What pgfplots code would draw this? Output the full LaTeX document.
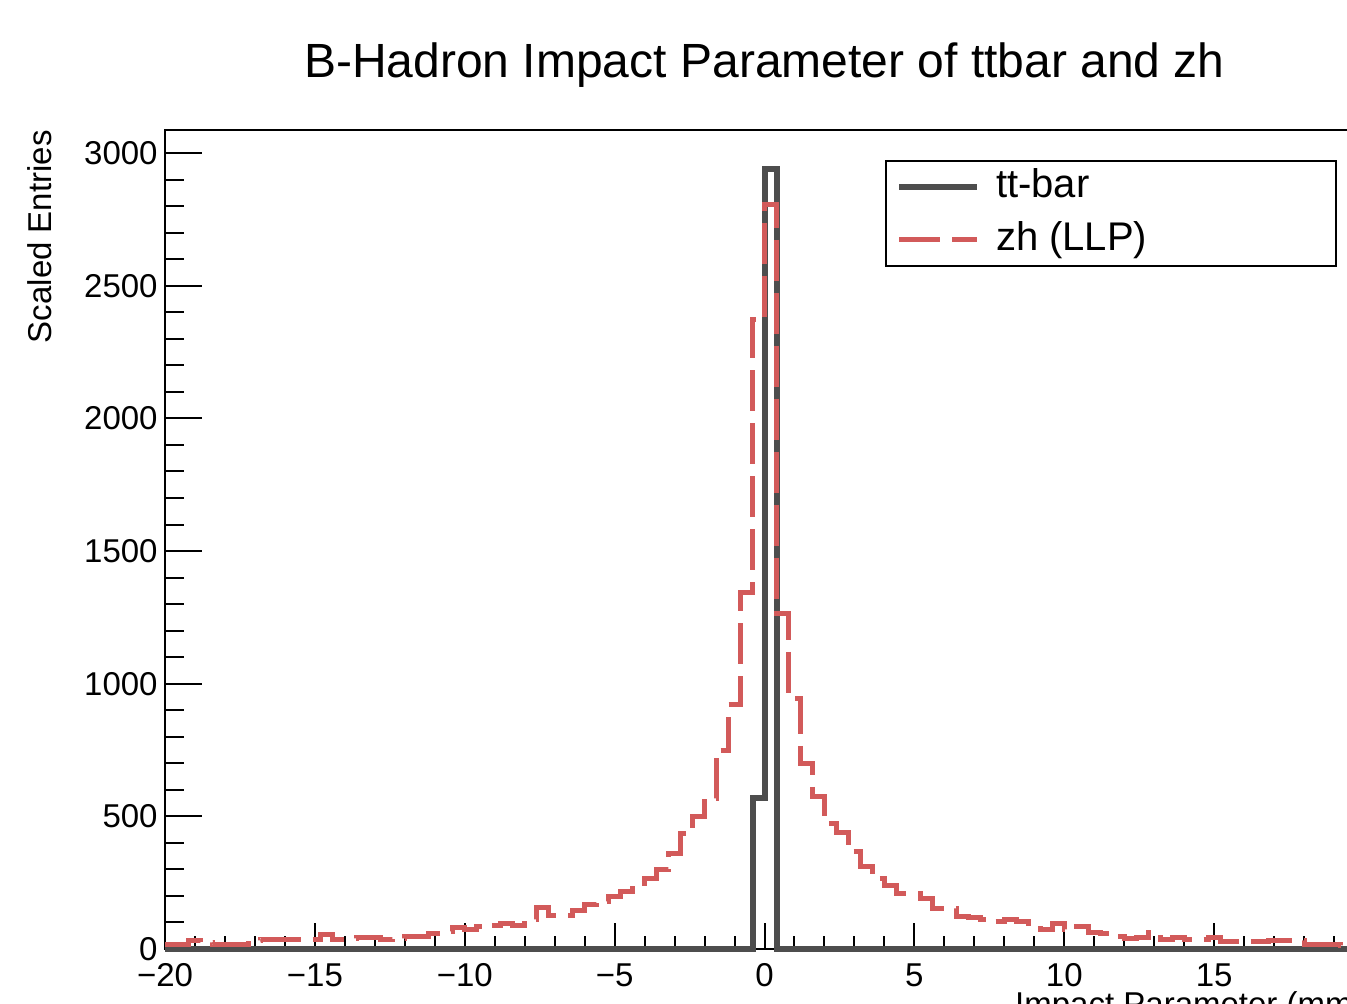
\documentclass[border=0pt]{standalone}
\usepackage{pgfplots}
\pgfplotsset{compat=1.18}
\usepackage{fontspec}
\setmainfont{Liberation Sans}
\definecolor{ttcol}{RGB}{77,77,77}
\definecolor{zhcol}{RGB}{210,90,90}
\pgfplotstableread{
x y
-20.0 18
-19.6 18
-19.2 31
-18.8 25
-18.4 18
-18.0 18
-17.6 18
-17.2 31
-16.8 34
-16.4 34
-16.0 34
-15.6 34
-15.2 34
-14.8 53
-14.4 36
-14.0 38
-13.6 43
-13.2 43
-12.8 36
-12.4 40
-12.0 49
-11.6 49
-11.2 59
-10.8 65
-10.4 82
-10.0 72
-9.6 84
-9.2 90
-8.8 97
-8.4 90
-8.0 110
-7.6 157
-7.2 126
-6.8 126
-6.4 147
-6.0 166
-5.6 180
-5.2 197
-4.8 216
-4.4 248
-4.0 266
-3.6 298
-3.2 361
-2.8 436
-2.4 500
-2.0 568
-1.6 750
-1.2 920
-0.8 1342
-0.4 2371
0.0 2805
0.4 1265
0.8 945
1.2 700
1.6 574
2.0 474
2.4 439
2.8 367
3.2 310
3.6 266
4.0 241
4.4 210
4.8 210
5.2 191
5.6 153
6.0 153
6.4 122
6.8 118
7.2 112
7.6 103
8.0 110
8.4 103
8.8 78
9.2 74
9.6 97
10.0 72
10.4 84
10.8 62
11.2 59
11.6 49
12.0 40
12.4 44
12.8 62
13.2 34
13.6 44
14.0 36
14.4 36
14.8 44
15.2 30
15.6 30
16.0 30
16.4 30
16.8 31
17.2 31
17.6 31
18.0 18
18.4 18
18.8 18
19.2 15
19.6 15
20.0 15
}\zhdata
\begin{document}
\begin{tikzpicture}
\useasboundingbox (-82.5pt,-27pt) rectangle (591pt,474.5pt);
\begin{axis}[
  name=ax,
  at={(0,0)}, anchor=south west,
  scale only axis,
  width=599.5pt, height=409.5pt,
  xmin=-20, xmax=20, ymin=0, ymax=3087,
  axis line style={line width=1pt, black},
  tick align=inside,
  xtick pos=left, ytick pos=left,
  xtick={-20,-15,...,20},
  xticklabels={−20,−15,−10,−5,0,5,10,15,20},
  minor x tick num=4,
  ytick={0,500,...,3000},
  minor y tick num=4,
  xtick style={line width=1pt, black, /pgfplots/major tick length=13pt, /pgfplots/minor tick length=6.5pt},
  ytick style={line width=1pt, black, /pgfplots/major tick length=18.5pt, /pgfplots/minor tick length=9.5pt},
  tick label style={font=\fontsize{16.5}{16.5}\selectfont},
  /pgf/number format/assume math mode=true,
  /pgf/number format/1000 sep={},
  scaled y ticks=false,
  xticklabel style={inner sep=0pt, yshift=-7pt},
  yticklabel style={inner sep=0pt, xshift=-3.5pt},
  clip=false,
  legend cell align=left,
  legend image code/.code={\draw[#1] (0pt,0pt) -- (39pt,0pt);},
  legend style={at={(0.6005,0.9634)}, anchor=north west, draw=black, line width=1pt,
    inner xsep=5pt, inner ysep=0pt, font=\fontsize{20}{20}\selectfont,
    row sep=0pt, nodes={inner sep=0pt, text height=18.4pt, text depth=7.9pt},
    /tikz/every odd column/.append style={column sep=8pt}},
]
\addplot[const plot, color=ttcol, line width=3pt, line join=miter] coordinates {(-20,0) (-0.4,570) (0,2940) (0.4,0) (20,0)};
\addlegendentry{\makebox[165pt][l]{tt-bar}}
\addplot[const plot, color=zhcol, line width=2.5pt, line join=miter, dash pattern=on 20.5pt off 6pt] table[x=x,y=y] {\zhdata};
\addlegendentry{\makebox[165pt][l]{zh (LLP)}}
\end{axis}
\node[anchor=base, inner sep=0pt, font=\fontsize{24}{28}\selectfont] at ([yshift=26pt]ax.north) {B-Hadron Impact Parameter of ttbar and zh};
\node[rotate=90, anchor=base east, inner sep=0pt, font=\fontsize{16.5}{18}\selectfont] at ([xshift=-56.5pt]ax.north west) {Scaled Entries};
\node[anchor=base east, inner sep=0pt, font=\fontsize{16.5}{18}\selectfont] at ([yshift=-33.3pt]ax.south east) {Impact Parameter (mm)};
\end{tikzpicture}
\end{document}
